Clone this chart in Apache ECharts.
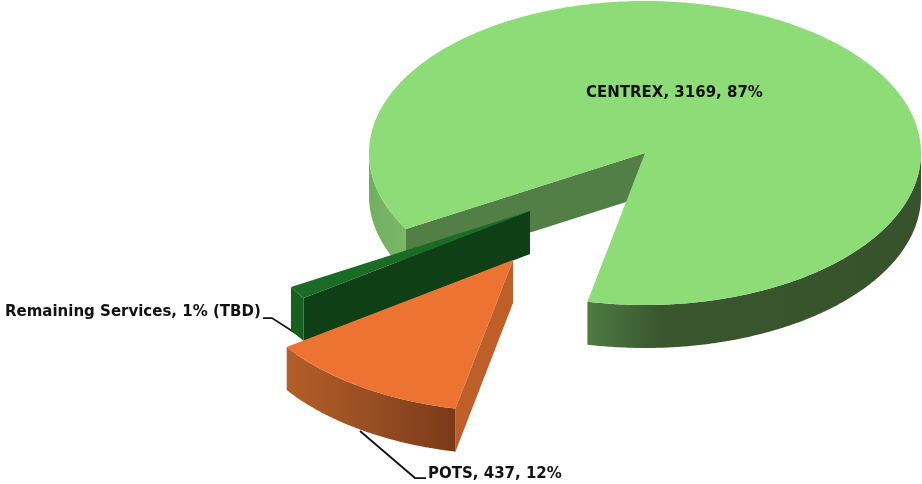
<!DOCTYPE html>
<html>
<head>
<meta charset="utf-8">
<style>
  html, body { margin: 0; padding: 0; background: #fff; }
  #chart { width: 922px; height: 484px; }
</style>
<script src="https://cdn.jsdelivr.net/npm/echarts@6/dist/echarts.min.js"></script>
</head>
<body>
<div id="chart"></div>
<script>
// (Remaining Services has no printed value, only 1%)
var categories = ['CENTREX', 'POTS', 'Remaining Services'];
var values = [3169, 437, 50];
var labels = ['CENTREX, 3169, 87%', 'POTS, 437, 12%', 'Remaining Services, 1% (TBD)'];

// layout of the tilted pie
var rx = 276, ry = 152, depth = 43;
var startAngle = 150;
var apex = [[645, 153], [513, 260], [530, 211]];
var labelPos = [[586, 93], [428, 474], [5, 312]];
var leaders = [null, [[360, 431], [415, 478], [426, 478]], [[263, 318], [272, 318], [303, 338]]];

var topColors = ['#8DDC78', '#ED7332', '#1A6B25'];
var edgeColors = ['#527F45', '#BE5F2A', '#0F3F14'];
var backArcStops = [[0, '#72AE60'], [1, '#7AB867']];
var frontArcStops = [
  [[0, '#4F7B42'], [0.22, '#39562E'], [1, '#37532D']],
  [[0, '#B55E29'], [0.5, '#974E22'], [1, '#7A3A18']],
  [[0, '#17611F'], [1, '#17611F']]
];

var total = values.reduce(function (a, b) { return a + b; }, 0);
var spans = values.map(function (v) { return v / total * 360; });

function pt(c, deg, dy) {
  var a = deg * Math.PI / 180;
  return [c[0] + rx * Math.cos(a), c[1] + ry * Math.sin(a) + (dy || 0)];
}

function arcPoints(c, from, to, dy) {
  var pts = [];
  var n = Math.max(2, Math.ceil((to - from) * 2));
  for (var i = 0; i <= n; i++) pts.push(pt(c, from + (to - from) * i / n, dy));
  return pts;
}

function gradient(stops) {
  return new echarts.graphic.LinearGradient(0, 0, 1, 0, stops.map(function (s) {
    return { offset: s[0], color: s[1] };
  }));
}

function sideFace(c, from, to, fill) {
  var top = arcPoints(c, from, to, 0);
  var bottom = arcPoints(c, from, to, depth).reverse();
  return { type: 'polygon', shape: { points: top.concat(bottom) }, style: { fill: fill } };
}

function renderSlice(params, api) {
  var i = api.value(0);
  var from = startAngle;
  for (var k = 0; k < i; k++) from += spans[k];
  var to = from + spans[i];
  var c = apex[i];
  var kids = [];

  if (leaders[i]) {
    kids.push({
      type: 'polyline',
      shape: { points: leaders[i] },
      style: { stroke: '#111', lineWidth: 1.75, fill: null }
    });
  }

  // slices run clockwise, so the cut at the start angle is the one facing us
  var e = pt(c, from);
  kids.push({
    type: 'polygon',
    shape: { points: [c, e, [e[0], e[1] + depth], [c[0], c[1] + depth]] },
    style: { fill: edgeColors[i] }
  });

  // rim: only the lower half of the ellipse shows
  if (i === 0) {
    kids.push(sideFace(c, from, 180, gradient(backArcStops)));
    kids.push(sideFace(c, 360, to, gradient(frontArcStops[0])));
  } else {
    kids.push(sideFace(c, from, to, gradient(frontArcStops[i])));
  }

  kids.push({
    type: 'polygon',
    shape: { points: [c].concat(arcPoints(c, from, to, 0)) },
    style: { fill: topColors[i] }
  });

  kids.push({
    type: 'text',
    style: {
      x: labelPos[i][0], y: labelPos[i][1],
      text: labels[i],
      fill: '#111',
      font: 'bold 15px "DejaVu Sans"',
      align: 'left',
      verticalAlign: 'middle'
    }
  });

  return { type: 'group', children: kids };
}

var chart = echarts.init(document.getElementById('chart'), null, { renderer: 'canvas' });
chart.setOption({
  animation: false,
  backgroundColor: '#fff',
  series: [{
    type: 'custom',
    coordinateSystem: 'none',
    renderItem: renderSlice,
    // paint order: back slice, thin slice, front slice
    data: [[0, categories[0]], [2, categories[2]], [1, categories[1]]],
    encode: { value: 0 }
  }]
});
</script>
</body>
</html>
